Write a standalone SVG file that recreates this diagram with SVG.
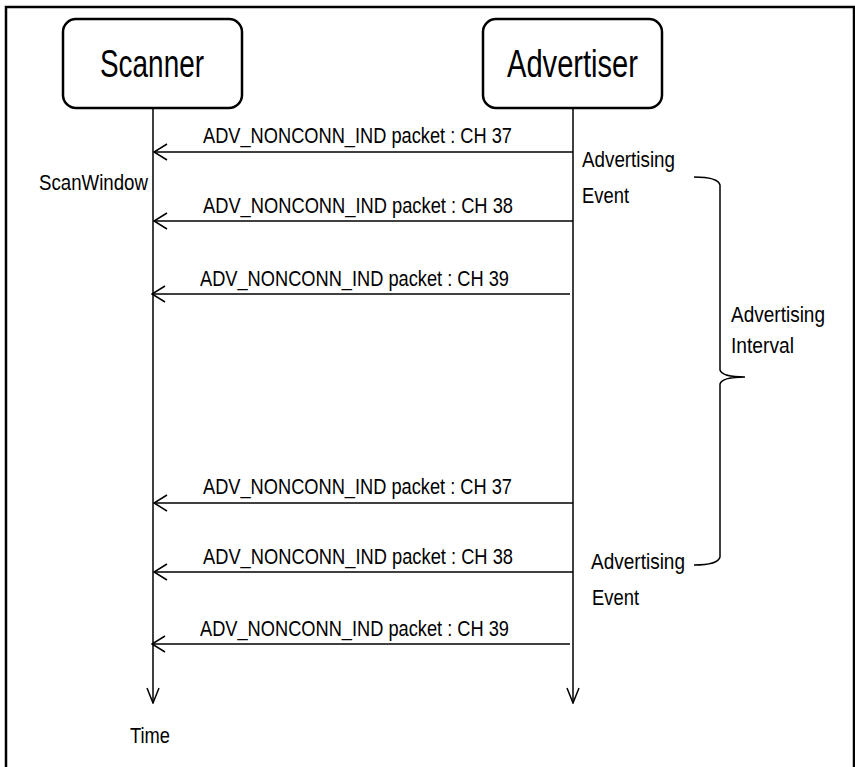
<svg xmlns="http://www.w3.org/2000/svg" width="855" height="767" viewBox="0 0 855 767">
<defs>
<style>
text{font-family:"Liberation Sans",Arial,sans-serif;fill:#000}
.title{font-size:38px}
.pkt{font-size:22px}
.lbl{font-size:22px}
.box{fill:#fff;stroke:#000;stroke-width:2.5}
.life{stroke:#000;stroke-width:1.5;fill:none}
.msg{stroke:#000;stroke-width:1.5;fill:none;marker-end:url(#open)}
</style>
<marker id="open" viewBox="0 0 16 20" refX="15" refY="10" markerWidth="16" markerHeight="20" markerUnits="userSpaceOnUse" orient="auto">
<path d="M2,2 L15,10 L2,18" fill="none" stroke="#000" stroke-width="1.5"/>
</marker>
<marker id="down" viewBox="0 0 14 18" refX="7" refY="17" markerWidth="14" markerHeight="18" markerUnits="userSpaceOnUse" orient="0">
<path d="M1,2 L7,17 L13,2" fill="none" stroke="#000" stroke-width="1.5"/>
</marker>
</defs>
<rect width="855" height="767" fill="#fff"/>
<rect x="6" y="7" width="848" height="800" fill="none" stroke="#000" stroke-width="2.5"/>

<g id="scanner">
<rect class="box" x="63" y="19" width="179" height="89" rx="13"/>
<text class="title" x="100" y="77" textLength="104" lengthAdjust="spacingAndGlyphs">Scanner</text>
</g>
<g id="advertiser">
<rect class="box" x="483" y="19" width="179" height="89" rx="13"/>
<text class="title" x="507" y="77" textLength="131" lengthAdjust="spacingAndGlyphs">Advertiser</text>
</g>

<g id="connectors">
<line class="life" x1="153" y1="108" x2="153" y2="703" marker-end="url(#down)"/>
<line class="life" x1="573" y1="108" x2="573" y2="703" marker-end="url(#down)"/>
<line class="msg" x1="573" y1="152" x2="154" y2="152"/>
<line class="msg" x1="573" y1="221" x2="154" y2="221"/>
<line class="msg" x1="570" y1="294" x2="152" y2="294"/>
<line class="msg" x1="573" y1="503" x2="154" y2="503"/>
<line class="msg" x1="573" y1="572" x2="154" y2="572"/>
<line class="msg" x1="570" y1="644" x2="152" y2="644"/>
<path d="M694,177 Q718,177 720,185 L720,370 Q722,377 745,377 Q722,377 720,384 L720,557 Q718,565 694,565" fill="none" stroke="#000" stroke-width="1.5"/>
</g>

<g id="labels">
<text class="pkt" x="203" y="143" textLength="309" lengthAdjust="spacingAndGlyphs">ADV_NONCONN_IND packet : CH 37</text>
<text class="pkt" x="203" y="213" textLength="310" lengthAdjust="spacingAndGlyphs">ADV_NONCONN_IND packet : CH 38</text>
<text class="pkt" x="200" y="286" textLength="309" lengthAdjust="spacingAndGlyphs">ADV_NONCONN_IND packet : CH 39</text>
<text class="pkt" x="203" y="494" textLength="309" lengthAdjust="spacingAndGlyphs">ADV_NONCONN_IND packet : CH 37</text>
<text class="pkt" x="203" y="564" textLength="310" lengthAdjust="spacingAndGlyphs">ADV_NONCONN_IND packet : CH 38</text>
<text class="pkt" x="200" y="636" textLength="309" lengthAdjust="spacingAndGlyphs">ADV_NONCONN_IND packet : CH 39</text>
<text class="lbl" x="39" y="190" textLength="109" lengthAdjust="spacingAndGlyphs">ScanWindow</text>
<text class="lbl" x="582" y="167" textLength="93" lengthAdjust="spacingAndGlyphs">Advertising</text>
<text class="lbl" x="582" y="203" textLength="47" lengthAdjust="spacingAndGlyphs">Event</text>
<text class="lbl" x="731" y="322" textLength="94" lengthAdjust="spacingAndGlyphs">Advertising</text>
<text class="lbl" x="731" y="353" textLength="63" lengthAdjust="spacingAndGlyphs">Interval</text>
<text class="lbl" x="591" y="569" textLength="94" lengthAdjust="spacingAndGlyphs">Advertising</text>
<text class="lbl" x="592" y="605" textLength="47" lengthAdjust="spacingAndGlyphs">Event</text>
<text class="lbl" x="130" y="743" textLength="40" lengthAdjust="spacingAndGlyphs">Time</text>
</g>
</svg>
